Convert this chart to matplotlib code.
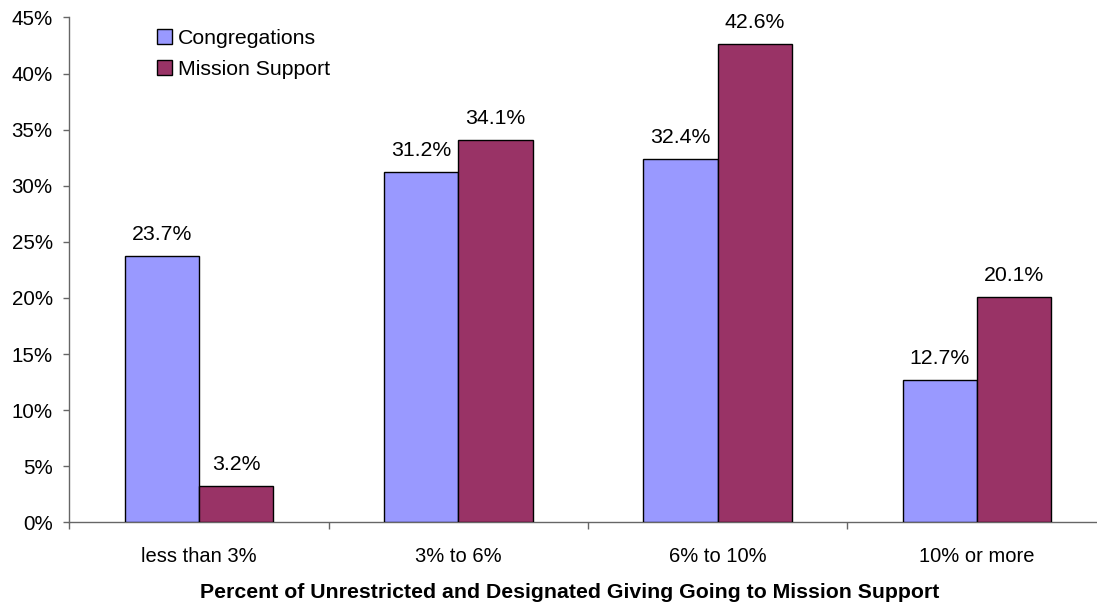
import matplotlib
matplotlib.use("Agg")
import matplotlib.pyplot as plt
from matplotlib.patches import Patch
from matplotlib.ticker import FixedLocator, PercentFormatter
import numpy as np

plt.rcParams['font.family'] = ['Liberation Sans', 'DejaVu Sans']

categories = ["less than 3%", "3% to 6%", "6% to 10%", "10% or more"]
congregations = [23.7, 31.2, 32.4, 12.7]
mission_support = [3.2, 34.1, 42.6, 20.1]
series_names = ["Congregations", "Mission Support"]
colors = ["#9999FF", "#993366"]
xlabel = "Percent of Unrestricted and Designated Giving Going to Mission Support"

FS = 15.3
W, H = 1097, 605
fig = plt.figure(figsize=(W / 100, H / 100), dpi=100)
ax = fig.add_axes([69.3 / W, 82.7 / H, 1037.3 / W, 504.8 / H])

x = np.arange(len(categories))
bw = 0.2865
for vals, off, col in [(congregations, -bw / 2, colors[0]), (mission_support, bw / 2, colors[1])]:
    bars = ax.bar(x + off, vals, width=bw, color=col, edgecolor="black", linewidth=1.0, zorder=3)
    for b, v in zip(bars, vals):
        ax.annotate(f"{v:.1f}%", (b.get_x() + b.get_width() / 2, v),
                    xytext=(0, 15.5), textcoords="offset points",
                    ha="center", va="center", fontsize=FS, color="black")

ax.set_xlim(-0.5, len(categories) - 0.5)
ax.set_ylim(0, 45)
ax.yaxis.set_major_locator(FixedLocator(np.arange(0, 46, 5)))
ax.yaxis.set_major_formatter(PercentFormatter(decimals=0))

# category boundaries as ticks, labels centered between them
ax.xaxis.set_major_locator(FixedLocator(np.arange(-0.5, len(categories), 1.0)))
ax.xaxis.set_major_formatter(plt.NullFormatter())
ax.xaxis.set_minor_locator(FixedLocator(x))
ax.set_xticklabels(categories, minor=True)
ax.tick_params(axis="x", which="minor", length=0, pad=18, labelsize=14.5)
ax.tick_params(axis="x", which="major", length=5, width=1, color="#666666", direction="out")
ax.tick_params(axis="y", length=4, width=1, color="#666666", direction="out", labelsize=14.8, pad=8)

for s in ["top", "right"]:
    ax.spines[s].set_visible(False)
for s in ["left", "bottom"]:
    ax.spines[s].set_color("#666666")
    ax.spines[s].set_linewidth(1.0)

fig.text(570 / W, 1 - 593 / H, xlabel, ha="center", va="center",
         fontsize=FS, fontweight="bold")

handles = [Patch(facecolor=c, edgecolor="black", linewidth=1.0) for c in colors]
fig.legend(handles, series_names, loc="upper left", bbox_to_anchor=(157 / W, 1 - 29 / H),
           frameon=False, fontsize=FS, handlelength=0.7, handleheight=0.7,
           handletextpad=0.3, labelspacing=0.55, borderpad=0, borderaxespad=0)

fig.savefig("out.png", dpi=100)
